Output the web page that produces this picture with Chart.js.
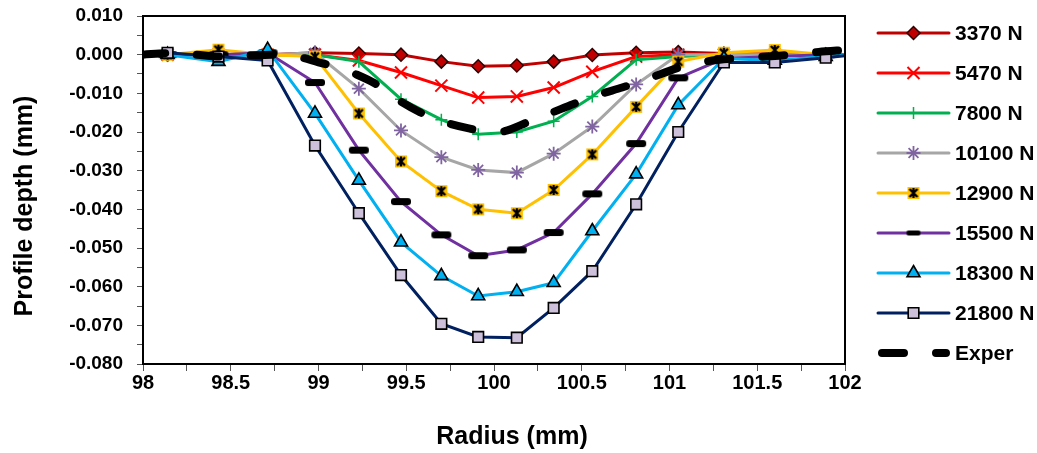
<!DOCTYPE html>
<html><head><meta charset="utf-8">
<script src="https://cdn.jsdelivr.net/npm/chart.js@4/dist/chart.umd.min.js"></script>
<style>html,body{margin:0;padding:0;background:#fff}#wrap{width:1037px;height:453px}</style>
</head><body><div id="wrap"><canvas id="c" width="1037" height="453"></canvas></div>
<script>
// ---------- data ----------
const radius = [98.0, 98.14, 98.43, 98.71, 98.98, 99.23, 99.47, 99.70, 99.91, 100.13, 100.34, 100.56, 100.81, 101.05, 101.31, 101.60, 101.89, 102.0];
const seriesNames = ['3370 N', '5470 N', '7800 N', '10100 N', '12900 N', '15500 N', '18300 N', '21800 N', 'Exper'];
const d3370  = [0, 0, 0, 0, 0.0005, 0.0003, 0.0, -0.0018, -0.0030, -0.0028, -0.0018, -0.0001, 0.0005, 0.0007, 0.0003, 0.0002, 0.0001, 0];
const d5470  = [0, 0, 0, 0, 0, -0.0015, -0.0046, -0.0080, -0.0111, -0.0108, -0.0085, -0.0044, -0.0005, 0, 0, 0, 0, 0];
const d7800  = [0, 0, 0, 0, 0, -0.0018, -0.0115, -0.0168, -0.0206, -0.0200, -0.0172, -0.0108, -0.0013, -0.0005, 0, 0, 0, 0];
const d10100 = [0, 0, 0, 0, 0.0005, -0.0088, -0.0196, -0.0265, -0.0298, -0.0305, -0.0256, -0.0186, -0.0077, 0, 0, 0, 0, 0];
const d12900 = [0, 0, 0.0013, 0, -0.0005, -0.0152, -0.0276, -0.0353, -0.0400, -0.0410, -0.0350, -0.0258, -0.0135, -0.0018, 0.0005, 0.0012, 0, 0];
const d15500 = [0, 0, 0, 0.0005, -0.0072, -0.0247, -0.0380, -0.0466, -0.0520, -0.0505, -0.0460, -0.0360, -0.0230, -0.0060, -0.0010, -0.0005, 0, 0];
const d18300 = [0, 0, -0.0018, 0.0013, -0.0152, -0.0325, -0.0485, -0.0572, -0.0624, -0.0613, -0.0590, -0.0456, -0.0309, -0.0130, -0.0010, -0.0015, -0.0005, 0];
const d21800 = [0, 0.0005, -0.0005, -0.0015, -0.0235, -0.0410, -0.0570, -0.0696, -0.0730, -0.0732, -0.0655, -0.0560, -0.0387, -0.0200, -0.0020, -0.0020, -0.0008, -0.0003];
const experRadius = [98.0, 98.15, 98.3, 98.45, 98.6, 98.75, 98.88, 99.0, 99.12, 99.22, 99.32, 99.43, 99.57, 99.7, 99.85, 99.97, 100.06, 100.2, 100.33, 100.45, 100.6, 100.73, 100.88, 101.05, 101.2, 101.39, 101.55, 101.7, 101.85, 102.0];
const experDepth  = [0, 0.0004, 0.0, -0.0005, -0.0002, 0.0, -0.0005, -0.0020, -0.0034, -0.0052, -0.0074, -0.0110, -0.0147, -0.0172, -0.0190, -0.0199, -0.0198, -0.0173, -0.0150, -0.0128, -0.0103, -0.0085, -0.0062, -0.0034, -0.0018, -0.0009, -0.0005, 0.0, 0.0007, 0.0012];
const xTitle = 'Radius (mm)';
const yTitle = 'Profile depth (mm)';

// ---------- styles ----------
const FONT = 'Arial, "Liberation Sans", sans-serif';
Chart.defaults.font.family = FONT;
Chart.defaults.color = '#000';

function mk(w, h, fn) { const c = document.createElement('canvas'); c.width = w; c.height = h; fn(c.getContext('2d')); return c; }
const starBox = mk(14, 14, g => {
  g.fillStyle = '#FFC000'; g.fillRect(1, 1, 12, 12);
  g.strokeStyle = '#000'; g.lineWidth = 2.4; g.beginPath();
  g.moveTo(3, 3); g.lineTo(11, 11); g.moveTo(11, 3); g.lineTo(3, 11);
  g.moveTo(7, 2); g.lineTo(7, 12); g.stroke();
});
const dashMark = mk(22, 9, g => {
  g.fillStyle = '#000'; g.beginPath();
  if (g.roundRect) g.roundRect(1, 1, 20, 7, 3); else g.rect(1, 1, 20, 7);
  g.fill();
});
const dashMarkSmall = mk(16, 7, g => {
  g.fillStyle = '#000'; g.beginPath();
  if (g.roundRect) g.roundRect(1, 1, 14, 5, 2); else g.rect(1, 1, 14, 5);
  g.fill();
});

const styles = [
  { color: '#C00000', pointStyle: 'rectRot', r: 6.5, fill: '#C00000', border: '#300000', bw: 1.5 },
  { color: '#FF0000', pointStyle: 'crossRot', r: 8.5, fill: '#FF0000', border: '#FF0000', bw: 2 },
  { color: '#00B050', pointStyle: 'cross', r: 6, fill: '#00B050', border: '#00B050', bw: 1.5 },
  { color: '#A6A6A6', pointStyle: 'star', r: 7, fill: '#8064A2', border: '#8064A2', bw: 1.8 },
  { color: '#FFC000', pointStyle: starBox, r: 7, fill: '#FFC000', border: '#000', bw: 1 },
  { color: '#7030A0', pointStyle: dashMark, legendStyle: dashMarkSmall, r: 8, fill: '#000', border: '#000', bw: 1 },
  { color: '#00B0F0', pointStyle: 'triangle', r: 7.5, fill: '#00B0F0', border: '#000', bw: 1.6 },
  { color: '#002060', pointStyle: 'rect', r: 7.5, fill: '#CCC0DA', border: '#000', bw: 1.6 }
];
const modelSeries = [d3370, d5470, d7800, d10100, d12900, d15500, d18300, d21800];

const datasets = modelSeries.map((arr, k) => {
  const s = styles[k];
  return {
    label: seriesNames[k],
    data: radius.map((r, i) => ({ x: r, y: arr[i] })),
    borderColor: s.color, borderWidth: 3, tension: 0,
    pointStyle: s.pointStyle,
    pointRadius: c => (c.dataIndex === 0 || c.dataIndex === radius.length - 1) ? 0 : s.r,
    pointBackgroundColor: s.fill, pointBorderColor: s.border, pointBorderWidth: s.bw,
    order: 8 - k + 1
  };
});
datasets.push({
  label: seriesNames[8],
  data: experRadius.map((r, i) => ({ x: r, y: experDepth[i] })),
  borderColor: '#000', borderWidth: 8, borderDash: [22, 32], borderCapStyle: 'round',
  tension: 0.3, pointRadius: 0, order: 0
});

const overlay = {
  id: 'overlay',
  afterDraw(chart) {
    const ctx = chart.ctx, a = chart.chartArea;
    ctx.save();
    ctx.strokeStyle = '#000'; ctx.lineWidth = 2;
    ctx.strokeRect(a.left, a.top, a.right - a.left, a.bottom - a.top);
    ctx.fillStyle = '#000'; ctx.textAlign = 'center'; ctx.textBaseline = 'middle';
    ctx.font = 'bold 25px ' + FONT;
    ctx.fillText(xTitle, (a.left + a.right) / 2 + 18, 437);
    ctx.save(); ctx.translate(25, (a.top + a.bottom) / 2 + 16); ctx.rotate(-Math.PI / 2);
    ctx.fillText(yTitle, 0, 0); ctx.restore();
    // legend
    const x0 = 878, x1 = 949, xm = (x0 + x1) / 2;
    ctx.textAlign = 'left'; ctx.font = 'bold 21px ' + FONT;
    chart.data.datasets.forEach((ds, i) => {
      const y = 33 + 40 * i;
      ctx.save();
      ctx.strokeStyle = ds.borderColor; ctx.lineWidth = ds.borderWidth;
      if (ds.borderDash) { ctx.setLineDash(ds.borderDash); ctx.lineCap = 'round'; ctx.beginPath(); ctx.moveTo(x0 + 4, y); ctx.lineTo(x1 - 3, y); ctx.stroke(); }
      else { ctx.lineCap = 'round'; ctx.beginPath(); ctx.moveTo(x0, y); ctx.lineTo(x1, y); ctx.stroke(); }
      ctx.restore();
      if (i < styles.length) {
        const s = styles[i];
        ctx.save();
        ctx.fillStyle = s.fill; ctx.strokeStyle = s.border; ctx.lineWidth = s.bw;
        Chart.helpers.drawPoint(ctx, { pointStyle: s.legendStyle || s.pointStyle, radius: s.r, rotation: 0, borderWidth: s.bw }, xm, y);
        ctx.restore();
      }
      ctx.fillStyle = '#000';
      ctx.fillText(ds.label, 955, y + 1);
    });
    ctx.restore();
  }
};

new Chart(document.getElementById('c'), {
  type: 'line',
  data: { datasets },
  options: {
    responsive: false, animation: false, devicePixelRatio: 1,
    layout: { padding: { top: 16, right: 192, bottom: 0, left: 0 } },
    plugins: { legend: { display: false }, tooltip: { enabled: false } },
    scales: {
      x: {
        type: 'linear', min: 98, max: 102,
        afterFit: s => { s.height = 89; },
        ticks: {
          stepSize: 0.25, autoSkip: false, maxRotation: 0, padding: 0,
          font: { size: 20, weight: 'bold' }, color: '#000',
          callback: v => (Math.round(v * 4) % 2 === 0) ? String(Math.round(v * 2) / 2) : ''
        },
        grid: { drawOnChartArea: false, tickLength: 7, color: '#000', tickColor: '#555' },
        border: { display: true, color: '#000', width: 2 }
      },
      y: {
        min: -0.08, max: 0.01,
        afterFit: s => { s.width = 143; s.paddingTop = 8; s.paddingBottom = 8; },
        ticks: {
          stepSize: 0.005, autoSkip: false, padding: 14,
          font: { size: 19, weight: 'bold' }, color: '#000',
          callback: v => (Math.round(v * 200) % 2 === 0) ? (Math.round(v * 100) / 100).toFixed(3) : ''
        },
        grid: { drawOnChartArea: false, tickLength: 6, color: '#000', tickColor: '#555' },
        border: { display: true, color: '#000', width: 2 }
      }
    }
  },
  plugins: [overlay]
});
</script>
</body></html>
